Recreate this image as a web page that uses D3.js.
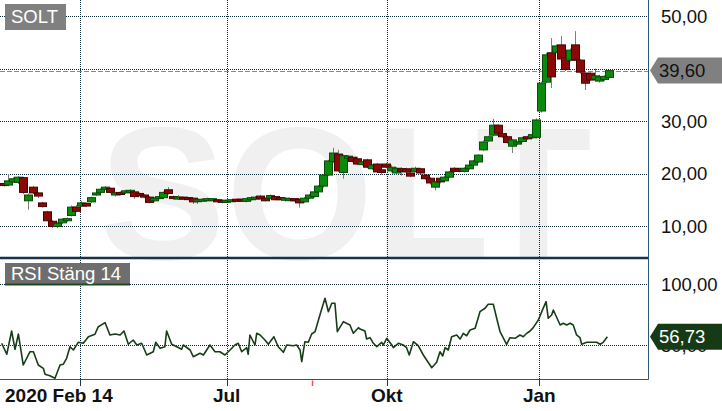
<!DOCTYPE html>
<html><head><meta charset="utf-8">
<script src="https://cdn.jsdelivr.net/npm/d3@7"></script>
<style>
body{margin:0;background:#fff;}
svg{display:block;font-family:"Liberation Sans",Arial,sans-serif;}
</style>
</head><body>
<svg id="c" width="722" height="411"></svg>
<script>
// ---------- DATA ----------
const ticker = "SOLT";
const rsiTitle = "RSI Stäng 14";
const totalDays = 268;            // trading days covered by the x axis
const candleStep = 2;             // trading days per candle
const openP  = [18.1,17.8,18.4,18.3,19.2,14.8,17.4,16.3,14.4,12.7,10.9,9.9,10.6,11.0,12.0,13.6,13.8,14.3,14.6,15.9,16.4,17.0,17.2,15.9,16.4,16.3,16.5,16.5,16.2,15.9,15.5,14.8,15.3,15.4,16.9,15.6,15.2,15.5,15.4,15.3,14.7,14.8,14.9,14.9,15.0,14.9,14.6,14.7,15.1,15.1,14.7,15.0,15.2,15.7,15.3,15.3,15.6,15.4,14.9,15.0,15.2,15.1,14.6,15.3,15.6,16.5,17.6,19.7,22.3,23.7,20.2,22.9,23.1,22.8,21.7,22.6,20.9,21.8,20.7,21.8,20.5,20.1,20.9,20.9,20.1,20.4,20.9,19.7,19.1,17.4,19.1,18.6,19.3,21.0,20.9,20.4,20.9,21.6,22.2,24.5,26.2,27.3,29.2,27.6,27.0,25.2,25.6,26.1,27.0,26.8,26.9,31.9,37.4,43.0,43.1,44.5,42.1,41.6,44.5,41.6,39.1,39.1,38.0,37.6,37.9,38.3];
const highP  = [18.3,19.9,19.3,19.5,19.4,16.2,17.6,16.4,14.6,12.9,11.1,10.8,11.5,11.6,13.9,14.0,14.8,14.5,15.6,16.6,17.2,17.6,17.3,16.5,16.6,16.9,17.0,16.7,16.4,16.1,15.7,15.5,15.8,16.6,17.4,15.8,15.9,15.6,15.5,15.4,15.2,15.3,15.4,15.3,15.1,15.0,15.0,15.1,15.2,15.2,15.4,15.6,15.7,15.9,15.4,16.0,15.7,15.5,15.5,15.4,15.3,15.2,15.5,16.1,16.7,17.8,19.9,22.6,24.9,24.5,23.6,23.5,23.3,23.2,22.4,22.8,21.8,22.0,20.9,22.0,21.6,21.2,21.2,21.1,20.3,21.3,21.1,19.9,19.3,18.6,19.3,19.6,20.5,21.2,21.1,21.2,21.8,22.6,23.7,26.3,27.2,30.4,29.4,27.8,27.2,26.6,26.2,27.0,27.2,27.6,30.5,37.5,43.0,45.8,44.6,46.2,42.3,43.8,47.1,41.8,39.3,39.3,40.0,38.8,38.7,39.7];
const lowP   = [17.5,17.6,18.2,18.0,16.1,13.1,16.1,15.3,13.5,10.9,9.6,9.6,10.4,10.8,11.8,12.6,13.6,13.6,14.4,15.7,16.3,16.8,16.2,15.6,15.8,16.1,16.3,15.2,15.6,15.3,14.3,14.6,15.1,15.2,16.0,15.0,15.0,15.0,14.9,14.2,14.2,14.7,14.7,14.8,14.5,14.3,14.4,14.6,14.7,14.7,14.5,14.8,15.0,15.0,14.7,15.1,14.9,14.9,14.7,14.9,14.6,13.5,14.4,15.1,15.4,16.3,17.3,19.5,22.0,20.3,19.0,22.6,22.1,21.6,21.5,21.0,20.7,20.1,19.8,21.0,20.2,19.8,19.6,20.1,19.3,20.2,19.9,18.8,17.9,16.8,18.1,18.4,19.1,20.2,20.2,20.2,20.7,21.4,22.0,24.3,26.0,27.1,27.5,26.8,25.7,23.9,25.4,25.9,26.4,26.6,26.7,31.6,37.2,36.3,42.9,41.6,39.5,41.3,41.4,39.0,35.9,37.6,37.8,37.3,37.6,38.1];
const closeP = [17.7,18.6,19.0,19.3,16.4,15.9,16.3,15.7,13.7,11.0,9.9,10.5,11.3,11.4,13.6,12.8,14.4,13.8,15.4,16.3,17.0,17.4,16.4,16.3,16.0,16.7,16.8,15.6,15.8,15.5,14.5,15.3,15.6,16.4,16.2,15.3,15.5,15.2,15.1,14.6,15.0,15.1,15.2,15.2,14.6,14.5,14.9,15.0,14.8,14.9,15.2,15.4,15.5,15.2,14.8,15.8,15.0,15.1,15.3,15.2,14.8,14.4,15.3,15.9,16.5,17.6,19.7,22.4,23.9,20.5,23.4,23.3,22.3,21.8,22.2,21.2,21.6,20.3,20.2,21.2,21.2,21.0,20.4,20.3,19.5,21.0,20.1,19.0,18.2,18.4,18.4,19.3,20.3,20.4,20.4,21.0,21.6,22.4,23.5,26.0,27.0,29.2,27.7,27.0,25.9,26.4,26.0,26.8,26.6,27.4,30.2,37.2,42.6,38.4,44.3,41.8,39.8,43.5,41.6,39.3,37.2,37.8,38.6,38.4,38.5,39.6];

const rsiDays = [0.7,2.8,4.8,6.2,7.6,9.6,12.4,13.8,15.8,17.9,18.6,20.6,22.7,24.8,26.1,27.5,28.9,30.3,32.3,34.4,36.5,39.2,40.6,43.4,45.4,47.5,49.6,51.2,53.0,55.0,56.5,58.5,60.6,63.3,64.3,66.1,68.1,68.8,70.9,73.0,75.0,75.7,78.5,79.8,82.6,84.0,86.7,88.8,90.8,92.9,95.0,97.0,98.4,99.8,101.9,102.5,103.2,105.3,106.0,107.4,109.4,110.8,113.1,114.9,117.0,118.4,121.1,122.5,123.9,124.6,125.9,127.3,128.7,130.1,132.1,134.2,135.6,137.0,138.3,139.3,141.8,144.5,145.9,148.0,148.7,150.7,151.4,152.8,154.2,155.6,157.6,158.3,159.7,161.8,162.4,164.5,166.5,167.9,169.0,170.7,172.7,174.8,178.3,180.3,181.7,182.8,183.8,185.1,186.5,188.6,190.0,191.3,192.7,194.1,196.2,198.2,200.3,201.6,203.7,205.1,206.5,209.2,210.6,212.7,214.7,216.1,217.5,218.9,220.2,222.3,223.7,225.5,226.4,227.8,228.5,231.3,232.6,234.0,235.4,236.7,238.1,239.5,240.2,242.3,244.3,246.4,247.8,249.1,250.8];
const rsiValues = [51.4,42.4,61.5,46.5,59.0,33.6,44.5,44.5,33.6,30.9,26.0,24.8,22.7,33.6,34.2,39.1,48.6,45.9,52.2,51.4,56.8,58.8,65.0,68.3,58.2,59.0,58.2,61.5,50.6,54.1,50.0,51.4,41.8,44.5,52.2,47.3,48.6,61.5,50.6,48.6,46.5,50.0,45.9,40.4,43.2,41.8,50.0,44.5,44.5,41.8,45.9,50.0,51.4,44.5,47.8,42.4,58.2,50.0,59.6,58.2,54.1,50.6,56.8,48.6,44.0,50.0,49.4,50.0,45.9,36.3,52.7,52.2,59.0,60.9,74.6,88.3,77.3,84.2,84.2,60.9,69.1,66.4,59.6,64.2,63.1,61.5,54.9,56.0,51.4,48.6,52.2,50.0,55.5,50.0,47.8,51.4,50.0,47.8,41.8,52.7,49.4,41.8,31.4,35.8,44.5,41.0,47.8,45.9,56.8,58.2,54.9,59.6,57.6,62.3,63.7,77.3,80.1,83.4,83.4,71.9,60.9,50.6,56.0,55.5,58.2,56.8,59.6,61.5,64.2,70.5,77.3,85.5,71.9,74.6,78.7,66.4,67.8,66.4,67.8,66.4,58.2,56.0,50.6,52.2,52.2,52.2,50.6,52.2,56.73];

const priceTicks = [10, 20, 30, 40, 50];
const rsiTicks = [50, 100];
const gridDays = [33.0, 93.6, 159.7, 222.7];
const gridLabels = ["", "Jul", "Okt", "Jan"];
const startLabel = "2020 Feb 14";
const markerDays = [128.7];
const lastPrice = 39.60;
const lastRsi = 56.73;

// ---------- LAYOUT ----------
const W = 722, H = 411;
const plotR = 648.5;
const sepY = 258, rsiBottom = 379.5;

const svg = d3.select("#c");
const x = d3.scaleLinear().domain([0, totalDays]).range([0, 649]);
const y = d3.scaleLinear().domain([10, 50]).range([226, 16]);
const yr = d3.scaleLinear().domain([50, 100]).range([345, 284]);
const fmt = v => d3.format(".2f")(v).replace(".", ",");

const candles = openP.map((o, i) => ({
  day: i * candleStep + candleStep * 0.75,
  o, h: highP[i], l: lowP[i], c: closeP[i]
}));
const rsi = rsiDays.map((d, i) => ({day: d, v: rsiValues[i]}));

// watermark
svg.append("text").attr("x", 99).attr("y", 259)
  .attr("font-size", 190).attr("font-weight", "bold")
  .attr("fill", "#f0f0f0").text(ticker);

const gridColor = "#0d2a3d";
svg.append("g").selectAll("line").data(priceTicks).join("line")
  .attr("x1", 0).attr("x2", plotR).attr("y1", d => Math.round(y(d)) + 0.5).attr("y2", d => Math.round(y(d)) + 0.5)
  .attr("stroke", gridColor).attr("stroke-dasharray", "1,1");
svg.append("g").selectAll("line").data(rsiTicks).join("line")
  .attr("x1", 0).attr("x2", plotR).attr("y1", d => Math.round(yr(d)) + 0.5).attr("y2", d => Math.round(yr(d)) + 0.5)
  .attr("stroke", gridColor).attr("stroke-dasharray", "1,1");
svg.append("g").selectAll("line").data(gridDays).join("line")
  .attr("x1", d => Math.round(x(d)) + 0.5).attr("x2", d => Math.round(x(d)) + 0.5)
  .attr("y1", 0).attr("y2", rsiBottom)
  .attr("stroke", gridColor).attr("stroke-dasharray", "1,1");

// last price dashed
svg.append("line").attr("x1", 0).attr("x2", plotR)
  .attr("y1", Math.round(y(lastPrice)) + 0.5).attr("y2", Math.round(y(lastPrice)) + 0.5)
  .attr("stroke", "#8a8a8a").attr("stroke-dasharray", "5,2");

// candles
const cw = 8;
const cg = svg.append("g");
cg.selectAll("line.w").data(candles).join("line").attr("class", "w")
  .attr("x1", d => Math.round(x(d.day)) + 0.5).attr("x2", d => Math.round(x(d.day)) + 0.5)
  .attr("y1", d => y(d.h)).attr("y2", d => y(d.l))
  .attr("stroke", "#7d7d7d").attr("stroke-width", 1);
cg.selectAll("rect").data(candles).join("rect")
  .attr("x", d => Math.round(x(d.day)) - cw / 2 + 0.5)
  .attr("y", d => y(Math.max(d.o, d.c)))
  .attr("width", cw)
  .attr("height", d => Math.max(2, Math.abs(y(d.o) - y(d.c))))
  .attr("fill", d => d.c >= d.o ? "#0a8a0a" : "#8a0808")
  .attr("stroke", d => d.c >= d.o ? "#0a4a0a" : "#4a0000")
  .attr("stroke-width", 1);

// RSI line
svg.append("path").datum(rsi)
  .attr("d", d3.line().x(d => x(d.day)).y(d => yr(d.v)))
  .attr("fill", "none").attr("stroke", "#173d17").attr("stroke-width", 1.6)
  .attr("stroke-linejoin", "round");

// frame
const frameColor = "#1d3a52";
svg.append("line").attr("x1", 0).attr("x2", plotR).attr("y1", sepY).attr("y2", sepY)
  .attr("stroke", "#17324a").attr("stroke-width", 2.5);
svg.append("line").attr("x1", plotR).attr("x2", plotR).attr("y1", 0).attr("y2", rsiBottom)
  .attr("stroke", "#2f5575").attr("stroke-width", 1);
svg.append("line").attr("x1", 0).attr("x2", plotR).attr("y1", rsiBottom).attr("y2", rsiBottom)
  .attr("stroke", "#2f5575").attr("stroke-width", 1);
svg.append("g").selectAll("line").data(gridDays).join("line")
  .attr("x1", d => Math.round(x(d)) + 0.5).attr("x2", d => Math.round(x(d)) + 0.5)
  .attr("y1", rsiBottom).attr("y2", 386).attr("stroke", frameColor);
svg.append("g").selectAll("line").data(markerDays).join("line")
  .attr("x1", d => Math.round(x(d)) + 0.5).attr("x2", d => Math.round(x(d)) + 0.5)
  .attr("y1", rsiBottom + 1).attr("y2", 386).attr("stroke", "#ff4d4d").attr("stroke-width", 1.5);

// x labels
svg.append("text").attr("x", 5).attr("y", 402).attr("font-size", 19).attr("font-weight", "bold")
  .attr("fill", "#111").text(startLabel);
svg.append("g").selectAll("text").data(gridDays.map((d, i) => ({d, t: gridLabels[i]})).filter(e => e.t))
  .join("text").attr("x", e => x(e.d)).attr("y", 402).attr("text-anchor", "middle")
  .attr("font-size", 19).attr("font-weight", "bold").attr("fill", "#111").text(e => e.t);

// right axis labels (a label fully covered by the last-price tag is not drawn)
svg.append("g").selectAll("text").data(priceTicks.filter(t => Math.abs(y(t) - y(lastPrice)) > 12)).join("text")
  .attr("x", 661).attr("y", d => y(d) + 6.5).attr("font-size", 18.5).attr("fill", "#111").text(fmt);
svg.append("g").selectAll("text").data(rsiTicks).join("text")
  .attr("x", 661).attr("y", d => yr(d) + 6.5).attr("font-size", 18.5).attr("fill", "#111").text(fmt);

function tag(yc, fill, txt, txtColor) {
  const h = 26, tipX = 650, bx = 658;
  svg.append("path")
    .attr("d", `M${tipX},${yc} L${bx},${yc - h / 2} L${W},${yc - h / 2} L${W},${yc + h / 2} L${bx},${yc + h / 2} Z`)
    .attr("fill", fill);
  svg.append("text").attr("x", 659).attr("y", yc + 6.5).attr("font-size", 18.5)
    .attr("fill", txtColor).text(txt);
}
tag(y(lastPrice), "#808080", fmt(lastPrice), "#111");
tag(yr(lastRsi), "#163a16", fmt(lastRsi), "#fff");

// panel titles
svg.append("rect").attr("x", 5).attr("y", 4).attr("width", 61).attr("height", 26).attr("fill", "#808080");
svg.append("text").attr("x", 11).attr("y", 23).attr("font-size", 18.5).attr("fill", "#fff").text(ticker);
svg.append("rect").attr("x", 5).attr("y", 263).attr("width", 125).attr("height", 22).attr("fill", "#6e6e6e");
svg.append("rect").attr("x", 5).attr("y", 283.5).attr("width", 125).attr("height", 2).attr("fill", "#1f4a1f");
svg.append("text").attr("x", 11).attr("y", 280).attr("font-size", 18.5).attr("fill", "#fff").text(rsiTitle);
</script>
</body></html>
